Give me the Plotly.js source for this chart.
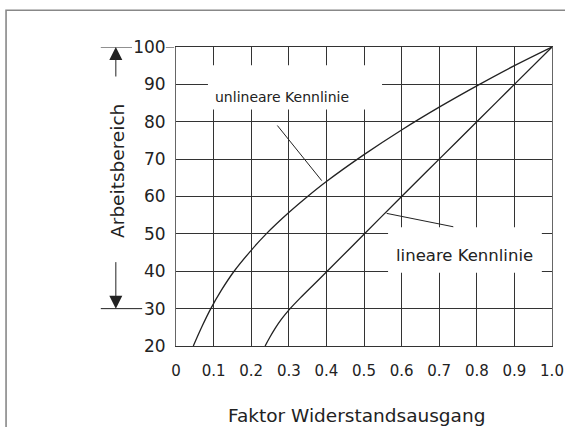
<!DOCTYPE html>
<html><head><meta charset="utf-8">
<script src="https://cdn.plot.ly/plotly-3.0.1.min.js"></script>
<style>html,body{margin:0;padding:0;background:#fff}#chart{width:565px;height:427px}</style>
</head><body><div id="chart"></div>
<script>
// Data
const nonlinX = [0.046, 0.07, 0.0915, 0.12, 0.153, 0.2, 0.24, 0.3, 0.35, 0.4, 0.5, 0.6, 0.7, 0.8, 0.9, 1.0];
const nonlinY = [20, 25.4, 29.8, 34.8, 39.8, 45.6, 50, 55.7, 60, 64, 71.2, 77.8, 83.9, 89.6, 95, 100];
const linX = [0.237, 0.25, 0.265, 0.28, 0.3, 0.33, 0.37, 0.4, 0.5, 0.6, 0.7, 0.8, 0.9, 1.0];
const linY = [20, 22.4, 24.9, 27.1, 29.6, 32.8, 36.8, 39.8, 49.9, 60, 70, 80, 90, 100];
const xTickVals = [0, 0.1, 0.2, 0.3, 0.4, 0.5, 0.6, 0.7, 0.8, 0.9, 1.0];
const xTickText = ['0', '0.1', '0.2', '0.3', '0.4', '0.5', '0.6', '0.7', '0.8', '0.9', '1.0'];
const yTickVals = [20, 30, 40, 50, 60, 70, 80, 90, 100];
const workRange = [30, 100];
const labelNonlin = 'unlineare Kennlinie';
const labelLin = 'lineare Kennlinie';
const xTitle = 'Faktor Widerstandsausgang';
const yTitle = 'Arbeitsbereich';

const ink = '#222';
const grid = '#333';
const F = 'DejaVu Sans';

const traces = [
  {x: nonlinX, y: nonlinY, mode: 'lines', line: {color: ink, width: 1.3, shape: 'spline', smoothing: 1}, hoverinfo: 'skip'},
  {x: linX, y: linY, mode: 'lines', line: {color: ink, width: 1.3, shape: 'spline', smoothing: 1}, hoverinfo: 'skip'}
];

const arrowX = -0.16;
const shapes = [
  // outer frame
  {type: 'rect', xref: 'paper', yref: 'paper', x0: -0.452, x1: 1.2, y0: -0.5, y1: 1.123,
   line: {color: '#888', width: 1.6}, fillcolor: 'rgba(0,0,0,0)', layer: 'above'},
  // working range markers
  {type: 'line', xref: 'paper', yref: 'y', x0: -0.2, x1: -0.117, y0: workRange[1], y1: workRange[1], line: {color: ink, width: 1}},
  {type: 'line', xref: 'paper', yref: 'y', x0: -0.027, x1: -0.005, y0: workRange[1], y1: workRange[1], line: {color: ink, width: 1}},
  {type: 'line', xref: 'paper', yref: 'y', x0: -0.2, x1: -0.09, y0: workRange[0], y1: workRange[0], line: {color: ink, width: 1}},
  // label boxes
  {type: 'rect', xref: 'x', yref: 'y', x0: 0.085, x1: 0.548, y0: 83.3, y1: 95.1, line: {width: 0}, fillcolor: '#fff', layer: 'above'},
  {type: 'rect', xref: 'x', yref: 'y', x0: 0.564, x1: 0.973, y0: 39.6, y1: 51.75, line: {width: 0}, fillcolor: '#fff', layer: 'above'},
  // leader lines
  {type: 'line', xref: 'x', yref: 'y', x0: 0.2695, y0: 79.0, x1: 0.3875, y1: 64.25, line: {color: ink, width: 1}, layer: 'above'},
  {type: 'line', xref: 'x', yref: 'y', x0: 0.5603, y0: 55.48, x1: 0.7375, y1: 51.9, line: {color: ink, width: 1}, layer: 'above'}
];

const annotations = [
  {xref: 'paper', yref: 'y', x: arrowX, y: workRange[1], text: '', showarrow: true, axref: 'pixel', ayref: 'pixel',
   ax: 0, ay: 31, arrowhead: 2, arrowsize: 2.6, arrowwidth: 1, arrowcolor: ink},
  {xref: 'paper', yref: 'y', x: arrowX, y: workRange[0], text: '', showarrow: true, axref: 'pixel', ayref: 'pixel',
   ax: 0, ay: -48, arrowhead: 2, arrowsize: 2.6, arrowwidth: 1, arrowcolor: ink},
  {xref: 'x', yref: 'y', x: 0.283, y: 86.5, text: labelNonlin, showarrow: false,
   font: {family: F, size: 14, color: ink}, xanchor: 'center', yanchor: 'middle'},
  {xref: 'x', yref: 'y', x: 0.766, y: 44.3, text: labelLin, showarrow: false,
   font: {family: F, size: 16.5, color: ink}, xanchor: 'center', yanchor: 'middle'},
  // axis titles
  {xref: 'paper', yref: 'paper', x: 0.4806, y: -0.234, text: xTitle, showarrow: false,
   font: {family: F, size: 18.5, color: ink}, xanchor: 'center', yanchor: 'middle'},
  {xref: 'paper', yref: 'paper', x: -0.154, y: 0.586, text: yTitle, showarrow: false, textangle: -90,
   font: {family: F, size: 18.5, color: ink}, xanchor: 'center', yanchor: 'middle'}
];

const layout = {
  width: 565, height: 427,
  margin: {l: 176, r: 13, t: 47, b: 81, pad: 0},
  paper_bgcolor: '#fff', plot_bgcolor: '#fff',
  showlegend: false,
  font: {family: F, color: ink},
  xaxis: {
    range: [0, 1], tickvals: xTickVals, ticktext: xTickText,
    showgrid: true, gridcolor: grid, gridwidth: 1,
    showline: true, linecolor: grid, linewidth: 1, mirror: true,
    zeroline: false, ticks: '', ticklabelstandoff: 11,
    tickfont: {family: F, size: 15, color: ink}
  },
  yaxis: {
    range: [20, 100], tickvals: yTickVals,
    showgrid: true, gridcolor: grid, gridwidth: 1,
    showline: true, linecolor: '#666', linewidth: 1, mirror: true,
    zeroline: false, ticks: '', ticklabelstandoff: 6,
    tickfont: {family: F, size: 17, color: ink}
  },
  shapes: shapes,
  annotations: annotations
};

Plotly.newPlot('chart', traces, layout, {staticPlot: true, displayModeBar: false});
</script>
</body></html>
